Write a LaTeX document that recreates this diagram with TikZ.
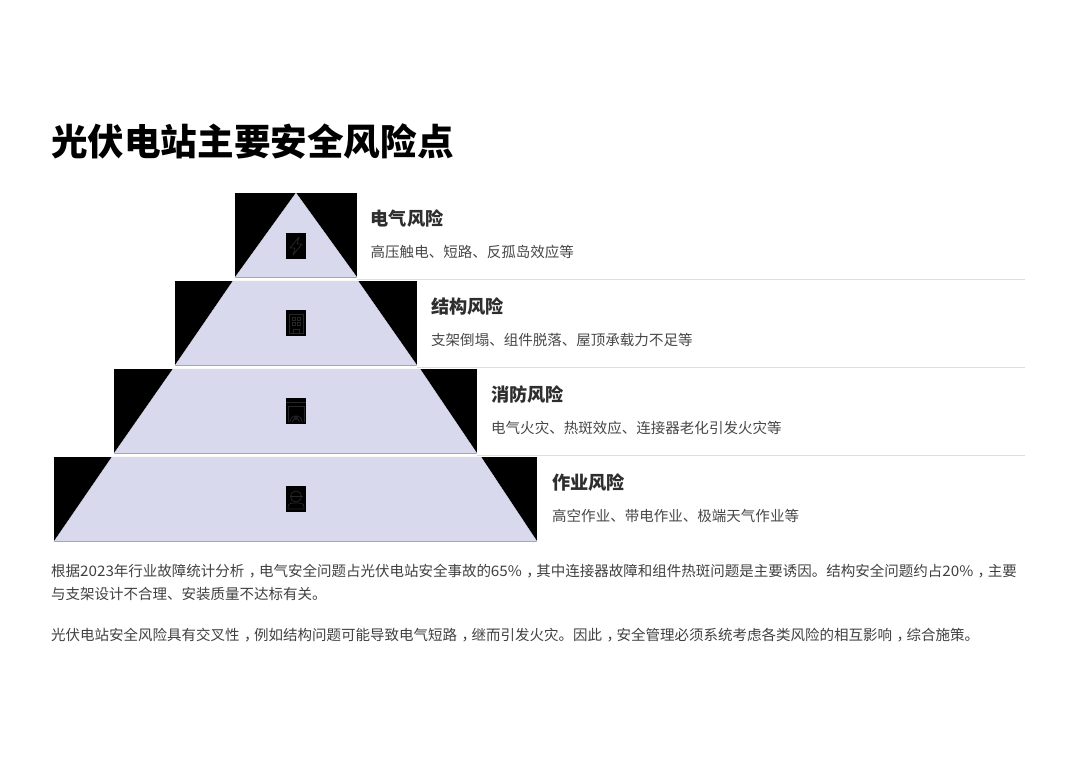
\documentclass[tikz,border=0pt]{standalone}
\usepackage{fontspec}
\usepackage{xcolor}
\setmainfont{Noto Sans CJK SC}
\newfontfamily\widefigs[FakeStretch=1.05]{Noto Sans CJK SC}
\usetikzlibrary{positioning,calc}
\definecolor{tierfill}{HTML}{D8D9EC}
\definecolor{rulegray}{HTML}{DDDDDD}
\definecolor{glyphgray}{HTML}{262626}
\newcommand{\midcomma}{\makebox[1em][l]{\hspace{0.3em}，}}
\newcommand{\figs}[1]{{\widefigs #1}}

\begin{document}
\begin{tikzpicture}[
  x=1pt, y=-1pt,
  tier/.style={fill=black, inner sep=0pt, outer sep=0pt, minimum height=84.5pt, anchor=north},
  wedge/.style={fill=tierfill, draw=tierfill, line width=0.3pt},
  icon/.style={fill=black, inner sep=0pt, outer sep=0pt, minimum width=20pt, minimum height=26pt},
  glyph/.style={draw=glyphgray, line width=0.8pt},
  title/.style={font=\fontsize{36.6}{40}\selectfont\bfseries, text=black, anchor=west, inner sep=0pt},
  head/.style={font=\fontsize{18.2}{22}\selectfont\bfseries, text=black!82, anchor=west, inner sep=0pt},
  sub/.style={font=\fontsize{14.52}{18}\selectfont, text=black!72, inner sep=0pt},
  body/.style={font=\fontsize{14.5}{23}\selectfont, text=black!75, align=left, inner sep=0pt},
  rule/.style={draw=rulegray, line width=0.9pt}
]
  \useasboundingbox (0,0) rectangle (1080,763);

  \node[title] (heading) at (51,141) {光伏电站主要安全风险点};

  % black tiers with the pale pyramid on top
  \node[tier, minimum width=122pt] (t1) at (296,193) {};
  \node[tier, minimum width=242pt] (t2) at (296,281) {};
  \node[tier, minimum width=363pt] (t3) at (295.5,369) {};
  \node[tier, minimum width=483pt] (t4) at (295.5,457) {};

  \fill[wedge] (t1.north) -- (t1.south east) -- (t1.south west) -- cycle;
  \fill[wedge] (233,281) -- (358,281) -- (t2.south east) -- (t2.south west) -- cycle;
  \fill[wedge] (173,369) -- (420,369) -- (t3.south east) -- (t3.south west) -- cycle;
  \fill[wedge] (112,457) -- (481,457) -- (t4.south east) -- (t4.south west) -- cycle;

  \node[icon] (i1) at (296,246) {};
  \node[icon] (i2) at (296,323) {};
  \node[icon] (i3) at (296,411) {};
  \node[icon] (i4) at (296,499) {};

  \begin{scope}[shift={(i1.center)}]
    \draw[glyph, line join=round] (3,-9) -- (-6,2) -- (-1,2) -- (-3,9) -- (6,-2) -- (1,-2) -- cycle;
  \end{scope}
  \begin{scope}[shift={(i2.center)}]
    \draw[glyph] (-7,10) -- (-7,-9) -- (7,-9) -- (7,10) -- cycle;
    \draw[glyph] (-4,-6) rectangle (-1,-3);
    \draw[glyph] (1,-6) rectangle (4,-3);
    \draw[glyph] (-4,-1) rectangle (-1,2);
    \draw[glyph] (1,-1) rectangle (4,2);
    \draw[glyph] (-3,10) -- (-3,6) -- (3,6) -- (3,10);
  \end{scope}
  \begin{scope}[shift={(i3.center)}]
    \draw[glyph] (-10,-9) -- (10,-9);
    \draw[glyph] (-8,-5) -- (8,-5);
    \draw[glyph] (-8,11) -- (-8,-5);
    \draw[glyph] (8,11) -- (8,-5);
    \draw[glyph] (-6,11) arc[start angle=180, end angle=360, radius=6];
    \draw[glyph] (-3.5,11) arc[start angle=180, end angle=360, radius=3.5];
    \draw[glyph] (0,7) circle[radius=1.5];
  \end{scope}
  \begin{scope}[shift={(i4.center)}]
    \draw[glyph] (0,-2.5) circle[radius=5.5];
    \draw[glyph] (-6.5,-3) -- (6.5,-3);
    \draw[glyph] (-8,10) -- (-8,8) .. controls (-8,4) and (-4,4) .. (0,4) .. controls (4,4) and (8,4) .. (8,8) -- (8,10) -- cycle;
  \end{scope}

  % rules run out to the right margin
  \coordinate (r1) at (1025,279);
  \coordinate (r2) at (1025,367);
  \coordinate (r3) at (1025,455);
  \draw[rule] (357,279) -- (r1);
  \draw[rule] (417,367) -- (r2);
  \draw[rule] (477,455) -- (r3);

  \node[head] (h1) at (370.5,219) {电气风险};
  \node[sub, below=33pt of h1.west, anchor=west] (s1) {高压触电、短路、反孤岛效应等};
  \node[head] (h2) at (431,307) {结构风险};
  \node[sub, below=33pt of h2.west, anchor=west] (s2) {支架倒塌、组件脱落、屋顶承载力不足等};
  \node[head] (h3) at (491,395) {消防风险};
  \node[sub, below=33pt of h3.west, anchor=west] (s3) {电气火灾、热斑效应、连接器老化引发火灾等};
  \node[head] (h4) at (552,483) {作业风险};
  \node[sub, below=33pt of h4.west, anchor=west] (s4) {高空作业、带电作业、极端天气作业等};

  \node[body, anchor=north west] (p1) at (51,564) {根据\figs{2023}年行业故障统计分析\midcomma 电气安全问题占光伏电站安全事故的\figs{65\%}\midcomma 其中连接器故障和组件热斑问题是主要诱因。结构安全问题约占\figs{20\%}\midcomma 主要\\与支架设计不合理、安装质量不达标有关。};
  \node[body, anchor=north west] (p2) at (51,628) {光伏电站安全风险具有交叉性\midcomma 例如结构问题可能导致电气短路\midcomma 继而引发火灾。因此\midcomma 安全管理必须系统考虑各类风险的相互影响\midcomma 综合施策。};
\end{tikzpicture}
\end{document}
